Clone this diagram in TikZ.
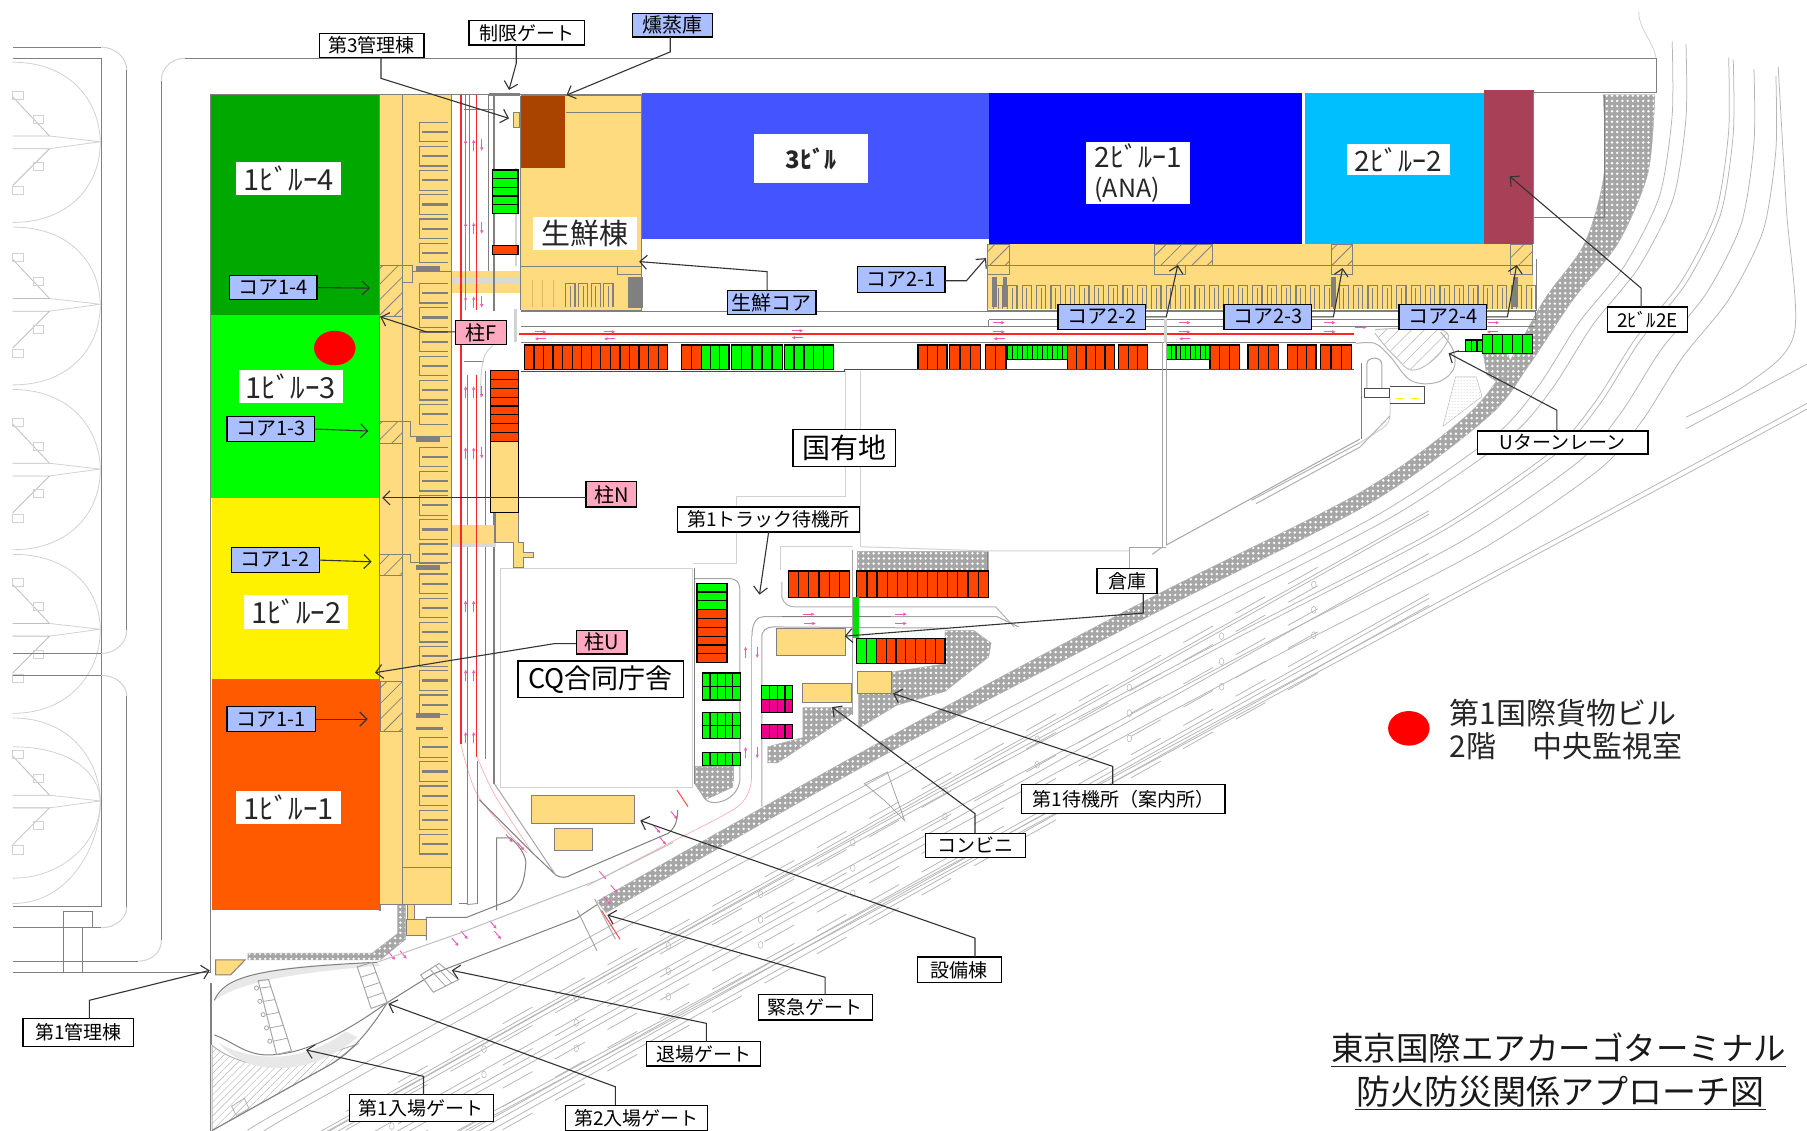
\documentclass[tikz,border=0pt]{standalone}
\usepackage{fontspec}
\setmainfont{Noto Sans CJK JP}
\usetikzlibrary{arrows.meta,patterns,patterns.meta}
\definecolor{bldg}{HTML}{FFDB7F}
\definecolor{lblue}{HTML}{AABFFF}
\definecolor{lpink}{HTML}{FFA8C0}
\definecolor{pred}{HTML}{FF4500}
\definecolor{road}{HTML}{808080}
\definecolor{zdg}{HTML}{00A800}
\definecolor{zor}{HTML}{FF5A00}
\definecolor{z3}{HTML}{4455FF}
\definecolor{z2}{HTML}{00BFFF}
\definecolor{z2e}{HTML}{A84058}
\definecolor{brn}{HTML}{A84300}
\tikzset{
 gl/.style={draw=road,line width=1pt},
 pale/.style={draw=gray!35,line width=1pt},
 hw/.style={draw=gray!58,line width=.75pt},
 comb/.style={draw=road,line width=1.2pt},
 combk/.style={draw=road,line width=2.6pt},
 slot/.style={draw=black,line width=1.2pt},
 hedgep/.style={preaction={fill=gray!70},pattern={Dots[distance=5.2pt,radius=1.35pt]},pattern color=white},
 hatchp/.style={pattern={Lines[angle=45,distance=11pt,line width=.8pt]},pattern color=road},
 rl/.style={draw=red!85,line width=1.4pt},
 pkl/.style={draw=red!35,line width=.6pt},
 pk/.style={draw=magenta!65,line width=.9pt,-{Latex[length=3.5pt,width=3.5pt]}},
 leader/.style={draw=black!80,line width=1.1pt,-{Straight Barb[length=7pt,width=14pt]}},
 lw/.style={draw=black,fill=white,line width=1.3pt,inner sep=0pt,outer sep=0pt,font=\fontsize{19}{19}\selectfont},
 lb/.style={lw,fill=lblue,font=\fontsize{20}{20}\selectfont},
 lp/.style={lw,fill=lpink,font=\fontsize{20}{20}\selectfont},
 zl/.style={fill=white,inner sep=0pt,outer sep=0pt,font=\fontsize{29}{29}\selectfont,text=black!85},
}
\newcommand{\lab}[7]{\node[#6,minimum width={(#4-#2)*1.1524*1pt},minimum height={(#5-#3)*1.1524*1pt}] (#1) at ({(#2+#4)/2},{(#3+#5)/2}) {#7};}
\newcommand{\bx}[5]{\fill[#1] (#2,#3) rectangle (#4,#5);}
\newcommand{\obx}[5]{\filldraw[gl,fill=#1] (#2,#3) rectangle (#4,#5);}
\newcommand{\slotsH}[6]{\filldraw[slot,fill=#6] (#1,#2) rectangle (#3,#4);
 \foreach \i [evaluate=\i as \xx using #1+(#3-#1)*\i/#5] in {1,...,#5} {\draw[slot] (\xx,#2)--(\xx,#4);}}
\newcommand{\slotsV}[6]{\filldraw[slot,fill=#6] (#1,#2) rectangle (#3,#4);
 \foreach \i [evaluate=\i as \yy using #2+(#4-#2)*\i/#5] in {1,...,#5} {\draw[slot] (#1,\yy)--(#3,\yy);}}
\newcommand{\ldS}[5]{\coordinate (#1b) at (#2,#3);\coordinate (#1t) at (#4,#5);\draw[leader] (#1.south -| #1b)--(#1b)--(#1t);}
\newcommand{\ldN}[5]{\coordinate (#1b) at (#2,#3);\coordinate (#1t) at (#4,#5);\draw[leader] (#1.north -| #1b)--(#1b)--(#1t);}
\newcommand{\ldE}[5]{\coordinate (#1b) at (#2,#3);\coordinate (#1t) at (#4,#5);\draw[leader] (#1.east |- #1b)--(#1b)--(#1t);}
\newcommand{\ldW}[5]{\coordinate (#1b) at (#2,#3);\coordinate (#1t) at (#4,#5);\draw[leader] (#1.west |- #1b)--(#1b)--(#1t);}
\newcommand{\ldR}[3]{\coordinate (#1t) at (#2,#3);\draw[leader] (#1.east)--(#1t);}
\newcommand{\pup}[2]{\draw[pk] (#1,#2+5)--(#1,#2-5);}
\newcommand{\pdn}[2]{\draw[pk] (#1,#2-5)--(#1,#2+5);}
\newcommand{\prt}[2]{\draw[pk] (#1-5,#2)--(#1+5,#2);}
\newcommand{\plf}[2]{\draw[pk] (#1+5,#2)--(#1-5,#2);}
\begin{document}
\begin{tikzpicture}[x=1.1524pt,y=-1.1524pt]
\fill[white] (0,0) rectangle (1568,981);
\path[use as bounding box] (0,0) rectangle (1568,981);

% ---------- airfield, left
\foreach \yc/\ha/\hb in {124/70/69,265/68/69,408/70/69,547/66/72,696/73/88}{
 \draw[pale,line width=.8pt] (11,\yc-\ha) .. controls (62,\yc-\ha) and (87,\yc-35) .. (87,\yc) .. controls (87,\yc+35) and (62,\yc+\hb) .. (11,\yc+\hb);
 \draw[pale,line width=.8pt,draw=gray!50] (11,\yc-40)--(43,\yc-6)--(11,\yc-6);
 \draw[pale,line width=.8pt,draw=gray!50] (11,\yc+37)--(43,\yc+5)--(11,\yc+5);
 \draw[pale,line width=.8pt] (43,\yc-6)--(87,\yc-1)--(43,\yc+5);
 \draw[pale,line width=.8pt] (11,\yc-45) rectangle (20,\yc-38);
 \draw[pale,line width=.8pt] (29,\yc-24) rectangle (38,\yc-17);
 \draw[pale,line width=.8pt] (29,\yc+17) rectangle (38,\yc+24);
 \draw[pale,line width=.8pt] (11,\yc+38) rectangle (20,\yc+45);
}
\draw[pale,line width=.8pt] (11,648) .. controls (60,648) and (87,670) .. (87,696) .. controls (87,730) and (55,762) .. (11,762);
\draw[gl] (11,50.6)--(88,50.6)--(88,787)--(11,787);
\draw[gl] (11,567)--(88,567);
\draw[gl] (11,586)--(88,586);
\draw[gl] (11,41)--(88,41);
\draw[pale] (88,41) .. controls (100,41) and (110,50) .. (110,61);
\draw[gl] (110,61)--(110,547);
\draw[pale] (110,547) .. controls (110,558) and (100,567) .. (88,567);
\draw[pale] (88,586) .. controls (100,586) and (110,594) .. (110,604);
\draw[gl] (110,604)--(110,787);
\draw[pale] (110,787) .. controls (110,797) and (100,805) .. (88,805);
\draw[gl] (11,805)--(88,805);
\draw[gl] (55,791) rectangle (80.6,805);
\draw[gl] (55,805)--(55,843.6) (72,805)--(72,843.6);
\draw[gl] (11,834)--(120,834);
\draw[pale] (120,834) .. controls (132,834) and (140,826) .. (140,816);
\draw[gl] (140,816)--(140,70);
\draw[pale] (140,70) .. controls (140,58) and (150,50.6) .. (160.5,50.6);
\draw[gl] (160.5,50.6)--(1437,50.6)--(1437,80)--(1330,80);
\draw[gl] (11,843.6)--(183,843.6);
\draw[pale,line width=.8pt] (1437,50) .. controls (1434,35) and (1422,25) .. (1422,10);

% ---------- highway
\begin{scope}
\clip (0,0) rectangle (1568,981);
\foreach \a/\b in {0/0,12/2,49/14,53/16,71/24,90/30}{
 \draw[hw,shift={(\a,\b)}] plot[smooth,tension=.45] coordinates {(1451,36)(1451,100)(1440,170)(1410,230)(1370,280)(1335,335)(1297,378)(1195,447)(1010,543)(770,671)(530,803)(250,960)(215,981)};
}
\draw[hw] plot[smooth,tension=.5] coordinates {(1543,58)(1550,180)(1557,289)(1518,332)(1463,362)};
\draw[hw] (397,981)--(1568,350);
\draw[hw] (404,981)--(1568,355);
\draw[hw] (1568,316)--(1463,372);
\foreach \v in {33,36,70,105,109,115}{
 \pgfmathsetmacro\ya{810+\v-.56*(240+\v-526)}
 \pgfmathsetmacro\yb{810+\v-.56*(1240-526)}
 \draw[hw] (240+\v,\ya)--(1240,\yb);
}
\foreach \v in {28,44,64,84,100,120}{
 \pgfmathsetmacro\ya{810+\v-.56*(300-526)}
 \pgfmathsetmacro\yb{810+\v-.56*(1150-526)}
 \draw[hw,dash pattern=on 34pt off 26pt] (300,\ya)--(1150,\yb);
}
\foreach \v in {41,63,85}{
 \foreach \xm in {340,420,...,1140}{
  \pgfmathsetmacro\ym{810+\v-.56*(\xm-526)}
  \draw[hw,line width=.5pt] (\xm,\ym) ellipse (2 and 3);
 }
}
\end{scope}

% ---------- hedge band
\filldraw[draw=gray!60,hedgep] plot[smooth,tension=.5] coordinates {(1391,82)(1392,150)(1375,211)(1340,260)(1307,318)(1271,362)(1179,428)(1000,518)(756,648)(518,782)} -- plot[smooth,tension=.5] coordinates {(526,792)(762,658)(1006,530)(1190,436)(1291,362)(1326,318)(1365,260)(1404,211)(1430,150)(1436,82)} -- cycle;
\filldraw[draw=gray!60,hedgep] (215,827)--(323,827)--(345,810)--(345,785)--(352,785)--(352,815)--(330,833)--(215,833)--cycle;
\filldraw[draw=gray!60,hedgep] (1287,306)--(1308,306)--(1312,318)--(1300,332)--(1290,325)--cycle;
\filldraw[draw=gray!60,pattern=dots,pattern color=gray!35] (1252,370)--(1263,327)--(1281,327)--(1286,344)--cycle;
\filldraw[draw=gray!60,hedgep] (743.5,478.6) rectangle (857.5,495);
\filldraw[draw=gray!60,hedgep] (820,547)--(845,547)--(860,558)--(858,570)--(820,600)--(778,612)--(745,632)--(745,602)--(774,602)--(774,583)--(820,576)--cycle;
\filldraw[draw=gray!60,hedgep] (696.7,614)--(739.7,614)--(739.7,619)--(674.6,662)--(666,662)--(666,648)--(696.7,640)--cycle;
\filldraw[draw=gray!60,hedgep] (603,665) rectangle (636,677);
\filldraw[draw=gray!60,hedgep] (603,677)--(636,677)--(636,683)--(612,694)--(603,680)--cycle;

% ---------- zones
\bx{zdg}{182}{82}{329}{273}
\bx{green}{182}{273}{329}{432}
\bx{yellow}{184}{432}{329}{589}
\bx{zor}{184}{589}{330}{790}
\bx{z3}{557}{81}{858}{207}
\bx{blue}{858}{81}{1130}{212}
\bx{z2}{1132}{81}{1288}{212}
\bx{z2e}{1288}{78}{1331}{212}
\draw[gl] (182,82)--(557,82);
\draw[gl] (1331,80)--(1331,212);
\draw[gl] (1331,189)--(1392,189);
\draw[gl] (1392,82)--(1392,189);

% ---------- building 1 strip
\filldraw[gl,fill=bldg] (329,82)--(392,82)--(392,785)--(330,785)--(330,790)--(329,790)--cycle;
\fill[zor] (329,590) rectangle (330,790);
\draw[gl] (349,82)--(349,785);
\draw[gl] (349,753)--(392,753);
\foreach \y in {106,127,148,169,190,211,246,267,288,309,330,351,388,409,430,451,472,498,519,540,561,582,603,640,661,682,703,724}{
 \draw[comb] (389,\y)--(364,\y)--(364,\y+17)--(389,\y+17);
 \draw[combk,line width=2.2pt] (366,\y+8.5)--(389,\y+8.5);
}
\foreach \y in {233,381,492,621}{\draw[combk,line width=5pt] (361,\y)--(382,\y);}
\draw[combk] (361,632)--(384,632);
\draw[gl,hatchp] (329,230) rectangle (349,275);
\draw[gl] (349,230)--(358,230)--(358,245)--(349,245);
\draw[gl] (358,236)--(392,236);
\draw[gl,hatchp] (329,366) rectangle (349,385);
\draw[gl] (349,366)--(356,366)--(356,379)--(392,379);
\draw[gl,hatchp] (329,481) rectangle (349,499);
\draw[gl] (349,481)--(356,481)--(356,488)--(392,488);
\draw[gl,hatchp] (330,591.5) rectangle (349.6,635);

% ---------- road along building 1
\fill[bldg] (392,235) rectangle (452,254.5);
\fill[gray!30] (392,240) rectangle (452,246);
\draw[rl] (400,82)--(400,646);
\draw[rl] (413.6,82)--(413.6,269);
\draw[rl] (413.6,325)--(413.6,656.6);
\draw[pkl] plot[smooth] coordinates {(400,646)(415,691)(457,740)};
\draw[pkl] plot[smooth] coordinates {(414,657)(430,691)(462,740)};
\draw[gl] (403.6,82)--(403.6,269) (407,82)--(407,235);
\draw[gl] (406,325)--(406,784);
\draw[gl] (414,660)--(414,784);
\draw[gl] (423.6,82)--(423.6,235);
\draw[gl] (421.5,322)--(421.5,659);
\draw[gl,line width=1.8pt] (428.7,82)--(428.7,270);
\draw[gl,line width=1.2pt] (428.7,348)--(428.7,680);
\draw[gl,line width=2.2pt] (424,82)--(451,82);
\draw[gl] (403,95)--(428,95);
\draw[gl] (403,314)--(420,314);
\draw[pale] (428,300) .. controls (420,305) and (417,312) .. (417,345);
\draw[pale,line width=2pt] (448,146)--(448,231);
\draw[gl] (452,146)--(452,269);
\draw[pale,line width=3pt] (447,268)--(447,297);

% ---------- fresh building
\fill[bldg] (452,83) rectangle (557,269);
\draw[gl] (452,83)--(557,83) (491,98)--(557,98) (557,83)--(557,269) (452,231)--(557,231) (452,269)--(557,269) (452,83)--(452,269);
\bx{brn}{451.8}{83}{490.6}{146}
\foreach \x in {462,471,480}{\draw[draw=bldg!85!black,line width=.6pt] (\x,243)--(\x,266);}
\foreach \x in {491,502,513,524}{\draw[comb] (\x,266)--(\x,246)--(\x+8,246)--(\x+8,266);\draw[comb] (\x+4,248)--(\x+4,266);}
\fill[road] (544.8,240) rectangle (558,267);
\draw[gl] (536,231)--(536,238)--(557,238);
\obx{bldg}{445.8}{98}{451}{110.5}
\slotsV{427.5}{147.5}{449.5}{185}{5}{green}
\slotsV{427.5}{213}{449.5}{221}{1}{pred}

% ---------- building 2 band
\fill[bldg] (857,212) rectangle (1330,268);
\draw[gl] (857,212)--(857,269)--(1333,269)--(1333,225);
\draw[gl] (857,230)--(1330,230);
\foreach \x in {862,874.5,...,1325}{
 \draw[comb] (\x,268)--(\x,248)--(\x+8,248)--(\x+8,268);
 \draw[comb,line width=.9pt] (\x+4,250)--(\x+4,268);
}
\foreach \x in {861,870,1155,1313}{\fill[road] (\x,240) rectangle (\x+4,266);}
\foreach \a/\b in {857/876,1155/1174,1311/1330}{
 \draw[gl,hatchp] (\a,212) rectangle (\b,230);
 \draw[gl] (\a,230) rectangle (\b,238);
}
\draw[gl,hatchp] (1002,212) rectangle (1052,230);
\draw[gl] (1002,230) rectangle (1029,238);

% ---------- east-west road
\draw[gl] (452,270)--(1333,270);
\draw[gl] (858,277.5)--(1332,277.5)--(1332,270);
\draw[gl] (858,277.5)--(858,283);
\draw[gl] (452,283)--(1332,283);
\draw[rl,line width=1.6pt] (450,290)--(1175,290);
\draw[gl] (452,297)--(1177,297);
\draw[pale,line width=3pt] (1011,277)--(1011,298);
\foreach \x/\y in {469/288,529/288,692/287,867/280,867/288,1028/280,1028/288,1154/280,1154/288,1181/284,1296/280}{\prt{\x}{\y}}
\foreach \x/\y in {469/294,529/294,692/293,867/294,1028/294,1295/288}{\plf{\x}{\y}}

% ---------- parking north row
\slotsH{455}{299.4}{579.4}{320.4}{15}{pred}
\slotsH{591.5}{299.4}{608.5}{320.4}{2}{pred}
\slotsH{608.5}{299.4}{632.5}{320.4}{3}{green}
\slotsH{635}{299.4}{678.7}{320.4}{5}{green}
\slotsH{680.4}{299.4}{723.4}{320.4}{5}{green}
\slotsH{796.5}{299.4}{821.7}{320.4}{3}{pred}
\slotsH{824}{299.4}{851}{320.4}{3}{pred}
\slotsH{855}{299.4}{873}{320.4}{2}{pred}
\slotsH{874}{299.4}{926}{311.6}{12}{green}
\slotsH{926}{299.4}{967}{320.4}{5}{pred}
\slotsH{970.5}{299.4}{995.7}{320.4}{3}{pred}
\slotsH{1012}{299.4}{1050}{311.6}{9}{green}
\slotsH{1050}{299.4}{1075.4}{320.4}{3}{pred}
\slotsH{1083}{299.4}{1109.5}{320.4}{3}{pred}
\slotsH{1117.5}{299.4}{1142}{320.4}{3}{pred}
\slotsH{1146}{299.4}{1173}{320.4}{3}{pred}
\draw[line width=1pt,black!70] (452,322)--(733,322)--(733,320.4)--(1175,320.4);
\slotsH{1286.6}{290}{1330}{306.4}{5}{green}
\slotsH{1271.5}{295}{1286.6}{305}{3}{green}
\draw[line width=1pt,black!80] (1271.5,305)--(1263,305);

% ---------- U-turn
\draw[gl,hatchp,pattern={Lines[angle=45,distance=9pt,line width=.5pt]},pattern color=gray!55,draw=gray!50] plot[smooth,tension=.7] coordinates {(1193,286)(1250,286)(1252,303)(1228,321)(1210,309)(1193,289)};
\draw[gl,draw=gray!60] plot[smooth,tension=.6] coordinates {(1177,298)(1193,298)(1206,309)(1224,330)(1246,332)(1261,321)(1261,304)(1250,288)};
\draw[gl] (1181.6,315)--(1181.6,381);
\draw[gl,draw=gray!70] (1186,337)--(1186,316) (1186,316) .. controls (1186,309) and (1199,309) .. (1199,316) -- (1199,337);
\draw[pale] plot[smooth] coordinates {(1206,345)(1206,361)(1201.6,370)(1179.4,384.5)};
\draw[gl,draw=gray!60] (1179.4,384.5)--(1086,434);
\draw[gl,draw=gray!60] (1206,361)--(1180,388)--(1090,437);
\draw[line width=1pt,black!70] (1184,337) rectangle (1206,344.6);
\draw[line width=1pt,black!70] (1206,335)--(1236,335)--(1236,350)--(1206,350);
\draw[draw=yellow,line width=1.4pt] (1211,346)--(1218,346) (1224,346)--(1231,346);

% ---------- central lot lines
\draw[pale] (733.8,322)--(733.8,431)--(638.7,431)--(638.7,488.8)--(601,488.8);
\draw[pale] (746.5,322)--(746.5,474.4);
\draw[pale] (677,474)--(677,495);
\draw[pale] (677,474)--(740,474);
\draw[pale] (746.5,474.4)--(856,478)--(980,478);
\draw[gl,draw=gray!70] (1009,297)--(1009,475) (1012,297)--(1012,473);
\draw[gl,draw=gray!70] (1012,473)--(1180,381);
\draw[gl,draw=gray!70] (1012,475)--(980,475)--(980,493);
\draw[pale] (434,493)--(601,493)--(601,683)--(434,683)--cycle;

% ---------- stub near lot
\fill[bldg] (391.8,455.6) rectangle (429,471);
\fill[gray!30] (392,471) rectangle (430,475);
\filldraw[gl,fill=bldg] (429.8,445)--(450,445)--(450,471)--(454,471)--(454,479)--(463,479)--(463,484)--(454,484)--(454,492)--(446,492)--(446,471)--(429.8,471)--cycle;
\draw[rl] (400,455)--(400,475);\draw[rl] (413.6,455)--(413.6,475);
\slotsV{425.8}{321.7}{450}{383}{8}{pred}
\filldraw[slot,fill=bldg] (425.8,383) rectangle (450,445);

% ---------- south lots
\draw[gl] (603,493)--(603,680);
\draw[gl,draw=gray!70] (603,502)--(634,502) .. controls (640,503) and (642,506) .. (642,512) -- (642,677) .. controls (640,695) and (618,700) .. (612.6,694) -- (603,680);
\draw[gl,draw=gray!70] (652.5,552) .. controls (652.5,540) and (657,535) .. (663,535) -- (865,535) -- (884,544);
\draw[gl,draw=gray!70] (661,700)--(661,552) .. controls (661,548) and (665,544) .. (670.7,544) -- (820,545);
\draw[gl,line width=1.1pt] (678.5,535)--(773,535);
\draw[gl,draw=gray!50] (652.5,552)--(652.5,677);
\draw[gl,draw=gray!60] (678.5,505)--(678.5,518) .. controls (680,524) and (684,526.6) .. (690,526.6) -- (864,526.6)--(880,544);
\draw[gl] (856.7,479)--(856.7,519);
\draw[gl,draw=gray!70] (740,477)--(740,620);
\draw[pkl] plot[smooth] coordinates {(652,677)(640,700)(570,737)(509,769)};
\draw[draw=red!70,line width=1pt] (587.4,685.5)--(597,700);
\draw[gl,draw=gray!70] (1008,475)--(1000,481);
\slotsV{604.8}{506}{630.8}{529}{3}{green}
\slotsV{604.8}{529}{630.8}{575}{6}{pred}
\slotsH{609.5}{584}{642.5}{595.7}{5}{green}
\slotsH{609.5}{595.7}{642.5}{607.4}{5}{green}
\slotsH{609.5}{618}{642.5}{629.5}{5}{green}
\slotsH{609.5}{629.5}{642.5}{641}{5}{green}
\slotsH{609.5}{653}{642.5}{664.4}{5}{green}
\slotsH{661}{595}{688}{607}{4}{green}
\slotsH{661}{607}{688}{618}{4}{magenta}
\slotsH{661}{628.5}{688}{641}{4}{magenta}
\slotsH{684.3}{495.4}{737}{518.3}{6}{pred}
\slotsH{743.5}{495.4}{857.5}{518.3}{13}{pred}
\slotsH{743.5}{554}{760.5}{576}{2}{green}
\slotsH{760.5}{554}{820}{576}{7}{pred}
\fill[green!88!black] (740,517.7) rectangle (745,554);
\obx{bldg}{673.4}{545.7}{733.8}{569}
\obx{bldg}{696.7}{593.5}{739.3}{610}
\obx{bldg}{744.3}{583}{774}{602}
\obx{bldg}{461.5}{690.4}{550.6}{714.4}
\obx{bldg}{481}{718.6}{514}{737.6}
\foreach \x/\y in {702/533,782/533,703/541,782/541}{\prt{\x}{\y}}
\foreach \y in {566,653}{\pup{647}{\y}\pdn{657}{\y}}

% ---------- vertical road arrows
\foreach \y in {126,198,262,340,393,526,586,640}{\pup{404}{\y}\pup{411}{\y}}
\foreach \y in {126,198,262,340,393}{\pdn{418}{\y}}
\foreach \x/\y in {442/728,452/735,527/782,523/760,533/772,570/720,575/730,585/708,395/818,403/812,428/803,432/812,340/830,350/829}{\draw[pk] (\x-3,\y-4)--(\x+3,\y+3);}

% ---------- loop roads and gates
\draw[gl] (416,694)--(462,740)--(482,759) .. controls (486,762) and (492,762) .. (496,759) -- (580,723) .. controls (586,718) and (588,712) .. (588,703);
\draw[gl,draw=gray!70] (429,680)--(482,759);
\draw[gl] (431,790)--(431,727)--(443,727) .. controls (452,735) and (458,745) .. (456,752) .. controls (455,765) and (452,773) .. (443,781) -- (405,796)--(370,796)--(370,816);
\draw[gl] (406,784) -- (398,784);
\draw[gl,draw=gray!70] (414,784) -- (405,785);
\draw[gl,draw=gray!50] (327,835) -- (398,810) -- (518,764) -- (584,731);
\draw[gl] (336,870) -- (376,845) -- (500,797) -- (518,785);
\obx{bldg}{353}{798}{370}{812}
\obx{bldg}{354}{785}{360}{798}
\filldraw[gl,fill=bldg] (187,833)--(212.6,833)--(200,846)--(187,846)--cycle;
\draw[line width=2.4pt,draw=road] (183,853)--(183,907);
\draw[gl] (183,82)--(183,843);
\draw[gl] (183,907)--(183,981);
\filldraw[gl,draw=gray!60,pattern={Lines[angle=45,distance=5pt,line width=.4pt]},pattern color=gray!60] (184,907) .. controls (205,925) and (245,930) .. (268,920) -- (310,906) -- (288,923) -- (184,981) -- cycle;
\draw[gl] (184,981)--(288,923) .. controls (305,913) and (322,893) .. (336,870);
\fill[gray!18] (186,868) .. controls (200,848) and (220,838) .. (327,835) -- (330,838) .. controls (240,845) and (205,855) .. cycle;
\fill[gray!18] (190,905) .. controls (215,920) and (260,925) .. (300,895) -- (310,900) .. controls (270,935) and (215,935) .. cycle;
\draw[gl] (186,868) .. controls (195,848) and (220,840) .. (327,835);
\draw[gl] (186,898) .. controls (205,905) and (215,918) .. (240,915) .. controls (275,912) and (315,885) .. (336,870);
\draw[gl,draw=gray!70] (224,851)--(233,850)--(253,912)--(240,915)--cycle;
\foreach \t in {0.1,0.28,0.46,0.64,0.82}{
 \draw[gl,draw=gray!70,line width=.8pt] ({224+\t*16},{851+\t*64})--({233+\t*20},{850+\t*62});
 \draw[gl,draw=gray!70,line width=.8pt] ({224+\t*16-3},{851+\t*64})circle(1.8);
}
\draw[gl,draw=gray!70] (310,839)--(323,835)--(336,870)--(322,875)--cycle;
\foreach \t in {0.25,0.5,0.75}{\draw[gl,draw=gray!70,line width=.8pt] ({310+\t*12},{839+\t*36})--({323+\t*13},{835+\t*35});}
\draw[gl,draw=gray!70] (365,846)--(381,836)--(398,850)--(376,861)--cycle;
\draw[gl,draw=gray!70,line width=.8pt] (373,841)--(387,856) (378,838)--(392,853);
\draw[gl,draw=gray!70] (501,790)--(518,825) (516,780)--(534,815);
\draw[draw=red!70,line width=1pt] (522,790)--(538,815);
\draw[gl,draw=gray!70,line width=.8pt] (750,680)--(770,670)--(785,712)--(768,695)--cycle;
\draw[gl,draw=gray!60,line width=.8pt] (201,960)--(212,953)--(216,962)--(205,968)--cycle;

% ---------- zone labels
\node[zl,minimum width=104.9pt,minimum height=32.3pt] (z14) at (250.5,155) {1ﾋﾞﾙｰ4\hspace{8pt}};
\node[zl,minimum width=104.9pt,minimum height=33.4pt] (z13) at (252.5,335.5) {1ﾋﾞﾙｰ3\hspace{8pt}};
\node[zl,minimum width=103.7pt,minimum height=34.6pt] (z12) at (257,531) {1ﾋﾞﾙｰ2\hspace{8pt}};
\node[zl,minimum width=104.9pt,minimum height=33.4pt] (z11) at (250.5,700.5) {1ﾋﾞﾙｰ1\hspace{8pt}};
\node[zl,font=\fontsize{24}{24}\selectfont\bfseries,minimum width=114pt,minimum height=49.5pt] (z3n) at (703.5,137.5) {3ﾋﾞﾙ\hspace{20pt}};
\node[zl,font=\fontsize{28}{30}\selectfont,align=left,minimum width=104.9pt,minimum height=62.2pt] (z21) at (987.5,150) {2ﾋﾞﾙｰ1\\{\fontsize{25}{28}\selectfont (ANA)}};
\node[zl,font=\fontsize{28}{28}\selectfont,minimum width=102.6pt,minimum height=31.1pt] (z22) at (1213.5,138.5) {2ﾋﾞﾙｰ2\hspace{6pt}};
\node[zl,font=\fontsize{29}{29}\selectfont,minimum width=104.3pt,minimum height=33.4pt] (zfresh) at (507.7,202.5) {生鮮棟};
\fill[red] (290.5,302) ellipse (18 and 15);

% ---------- callout labels
\lab{l3k}{277}{29}{368}{50}{lw}{第3管理棟}
\lab{lsg}{407}{18}{507}{39}{lw}{制限ゲート}
\lab{lfu}{549}{12}{618}{32}{lb}{燻蒸庫\hspace{6pt}}
\lab{lsc}{631}{252}{708}{273}{lb}{生鮮コア}
\lab{c21}{744}{231}{820}{254}{lb}{コア2-1\hspace{5pt}}
\lab{c22}{918}{264}{994}{286}{lb}{コア2-2\hspace{5pt}}
\lab{c23}{1062}{264}{1138}{286}{lb}{コア2-3\hspace{5pt}}
\lab{c24}{1214}{264}{1290}{286}{lb}{コア2-4\hspace{5pt}}
\lab{c14}{199}{239}{275}{260}{lb}{コア1-4\hspace{5pt}}
\lab{c13}{197}{361.6}{273}{383}{lb}{コア1-3\hspace{5pt}}
\lab{c12}{201}{475}{277}{497}{lb}{コア1-2\hspace{5pt}}
\lab{c11}{197}{613}{274}{635}{lb}{コア1-1\hspace{5pt}}
\lab{pf}{395}{278}{439.4}{299}{lp}{柱F}
\lab{pn}{508.6}{418}{552.5}{440}{lp}{柱N}
\lab{pu}{500}{547}{544}{567.6}{lp}{柱U}
\lab{ltr}{588}{440}{745.6}{461.6}{lw}{第1トラック待機所}
\lab{lkoku}{688}{372.6}{777}{405}{lw,font=\fontsize{28}{28}\selectfont}{国有地}
\lab{lcq}{449.6}{573.6}{593}{605.4}{lw,font=\fontsize{27}{27}\selectfont}{CQ合同庁舎}
\lab{lso}{952}{493}{1004}{515}{lw}{倉庫}
\lab{lut}{1282}{374}{1430}{394}{lw}{Uターンレーン\hspace{22pt}}
\lab{l2e}{1395}{266.5}{1464}{288}{lw}{2ﾋﾞﾙ2E}
\lab{lan}{886.5}{681}{1063}{706}{lw}{第1待機所（案内所）}
\lab{lcv}{803}{723}{889.6}{744}{lw}{コンビニ}
\lab{lse}{796}{830.5}{869}{852.7}{lw}{設備棟}
\lab{lkg}{658}{863}{757}{885}{lw}{緊急ゲート}
\lab{ltj}{561}{904}{660}{925}{lw}{退場ゲート}
\lab{lg1}{303}{950}{428}{973}{lw}{第1入場ゲート}
\lab{lg2}{491}{959}{614}{981}{lw}{第2入場ゲート}
\lab{lk1}{20}{884}{116}{908}{lw}{第1管理棟}

% ---------- leaders
\ldS{l3k}{330.6}{68}{441.7}{102.7}
\ldS{lsg}{448}{55}{441.7}{78}
\ldS{lfu}{581.6}{45}{491.6}{82.5}
\ldN{lsc}{665.6}{235.7}{554.6}{227}
\ldE{c21}{838.6}{243.6}{855.6}{224}
\ldE{c22}{1012}{275}{1022}{230}
\ldE{c23}{1157}{275}{1165}{232.6}
\ldE{c24}{1308}{275}{1316}{230}
\ldR{c14}{321}{250}
\ldR{c13}{319.6}{374}
\ldR{c12}{322.5}{487.5}
\ldR{c11}{319}{624}
\ldW{pf}{370}{288}{330}{275}
\ldW{pn}{460}{432}{331.6}{432}
\ldW{pu}{481}{558.5}{325.4}{583.7}
\coordinate (ltrt) at (659,516);
\coordinate (ltrb) at (667,470);
\draw[leader] (ltr.south -| ltrb)--(ltrt);
\ldS{lso}{992}{532}{733}{552}
\ldN{lut}{1351}{356}{1257}{306.6}
\ldN{l2e}{1424}{250}{1310}{153}
\ldN{lan}{965.6}{665}{775}{601.8}
\ldN{lcv}{846}{706}{722}{613.6}
\ldN{lse}{846}{814}{555.6}{712}
\ldN{lkg}{716}{848}{527}{794}
\ldN{ltj}{613}{888}{392}{842}
\ldN{lg1}{367.5}{934}{265.6}{911}
\ldN{lg2}{534}{943}{337}{871}
\ldN{lk1}{77.5}{868}{182}{842}

% ---------- legend and title
\fill[red] (1222.5,632) ellipse (18 and 15);
\node[anchor=west,inner sep=0pt,font=\fontsize{30}{30}\selectfont,text=black!85] (leg1) at (1258,619) {第1国際貨物ビル};
\node[anchor=west,inner sep=0pt,font=\fontsize{30}{30}\selectfont,text=black!85] (leg2) at (1258,647) {2階\hspace{1.2em}中央監視室};
\node[inner sep=0pt,font=\fontsize{32.5}{33}\selectfont,text=black!90] (t1) at (1352.5,909) {東京国際エアカーゴターミナル};
\node[inner sep=0pt,font=\fontsize{34}{34}\selectfont,text=black!90] (t2) at (1354,947) {防火防災関係アプローチ図};
\draw[line width=1.4pt,black!85] (1155,925.6)--(1550,925.6);
\draw[line width=1.4pt,black!85] (1176,962.8)--(1532,962.8);
\end{tikzpicture}
\end{document}
